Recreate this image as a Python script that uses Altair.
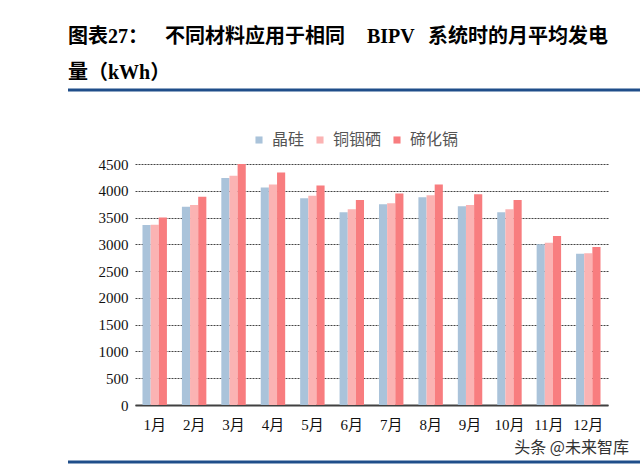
import altair as alt
import pandas as pd

months = ["1月", "2月", "3月", "4月", "5月", "6月", "7月", "8月", "9月", "10月", "11月", "12月"]
series_names = ["晶硅", "铜铟硒", "碲化镉"]
crystalline_si = [3360, 3700, 4240, 4060, 3860, 3600, 3750, 3880, 3710, 3600, 3000, 2825]
cigs = [3365, 3735, 4280, 4115, 3905, 3655, 3765, 3915, 3735, 3655, 3030, 2832]
cdte = [3500, 3890, 4500, 4340, 4100, 3830, 3950, 4115, 3935, 3830, 3155, 2950]
colors = ["#aac3da", "#fbb3b3", "#f87d7f"]

title_parts = ["图表27：", "不同材料应用于相同", "BIPV", "系统时的月平均发电"]
title2 = "量（kWh）"
watermark = "头条 @未来智库"

rows = []
for name, vals in zip(series_names, [crystalline_si, cigs, cdte]):
    for m, v in zip(months, vals):
        rows.append({"月份": m, "材料": name, "发电量": v})
df = pd.DataFrame(rows)

serif = "Liberation Serif, Noto Sans CJK SC"

bars = alt.Chart(df).mark_bar().encode(
    x=alt.X("月份:N", sort=months,
            scale=alt.Scale(paddingInner=0.38, paddingOuter=0.19),
            axis=alt.Axis(title=None, labelAngle=0, labelFont=serif, labelFontSize=15,
                          labelColor="#111111", labelPadding=12, ticks=False,
                          domainColor="#404040", domainWidth=2)),
    xOffset=alt.XOffset("材料:N", sort=series_names),
    y=alt.Y("发电量:Q", scale=alt.Scale(domain=[0, 4500], nice=False),
            axis=alt.Axis(title=None, values=list(range(0, 4501, 500)), format="d",
                          labelFont=serif, labelFontSize=15, labelColor="#111111",
                          labelPadding=7, ticks=False, domain=False, grid=True,
                          gridColor="#444444", gridDash=[2, 1], gridWidth=1)),
    color=alt.Color("材料:N", sort=series_names,
                    scale=alt.Scale(domain=series_names, range=colors),
                    legend=alt.Legend(title=None, orient="none", direction="horizontal",
                                      legendX=116, legendY=-32, symbolType="square",
                                      symbolSize=50, symbolStrokeWidth=0, labelFontSize=16,
                                      labelFont="Noto Sans CJK SC", labelColor="#555555",
                                      labelOffset=5, columnPadding=7)),
)

title_x = [-67, 30, 232, 293]
layers = [bars]
for part, xv in zip(title_parts, title_x):
    layers.append(
        alt.Chart(pd.DataFrame({"t": [part]})).mark_text(
            align="left", baseline="middle", font=serif,
            fontSize=20, fontWeight="bold", color="#000000"
        ).encode(text="t:N", x=alt.value(xv), y=alt.value(-127))
    )

layers.append(
    alt.Chart(pd.DataFrame({"t": [title2]})).mark_text(
        align="left", baseline="middle", font=serif,
        fontSize=20, fontWeight="bold", color="#000000"
    ).encode(text="t:N", x=alt.value(-67), y=alt.value(-91))
)

layers.append(alt.Chart(pd.DataFrame({"a": [0]})).mark_rule(color="#1f4e8a", strokeWidth=3).encode(
    x=alt.value(-67), x2=alt.value(510), y=alt.value(-74)))
layers.append(alt.Chart(pd.DataFrame({"a": [0]})).mark_rule(color="#1f4e8a", strokeWidth=3).encode(
    x=alt.value(-67), x2=alt.value(510), y=alt.value(298)))

layers.append(alt.Chart(pd.DataFrame({"t": [watermark]})).mark_text(
    align="right", baseline="middle", font="Noto Sans CJK SC", fontSize=16, color="#333333"
).encode(text="t:N", x=alt.value(494), y=alt.value(284)))

chart = alt.layer(*layers).properties(
    width=473, height=241,
    autosize=alt.AutoSizeParams(type="none"),
    padding={"left": 135, "top": 164, "right": 32, "bottom": 60},
    background="white",
).configure_view(stroke=None)

chart.save("out.html", embed_options={"renderer": "svg", "actions": False})
